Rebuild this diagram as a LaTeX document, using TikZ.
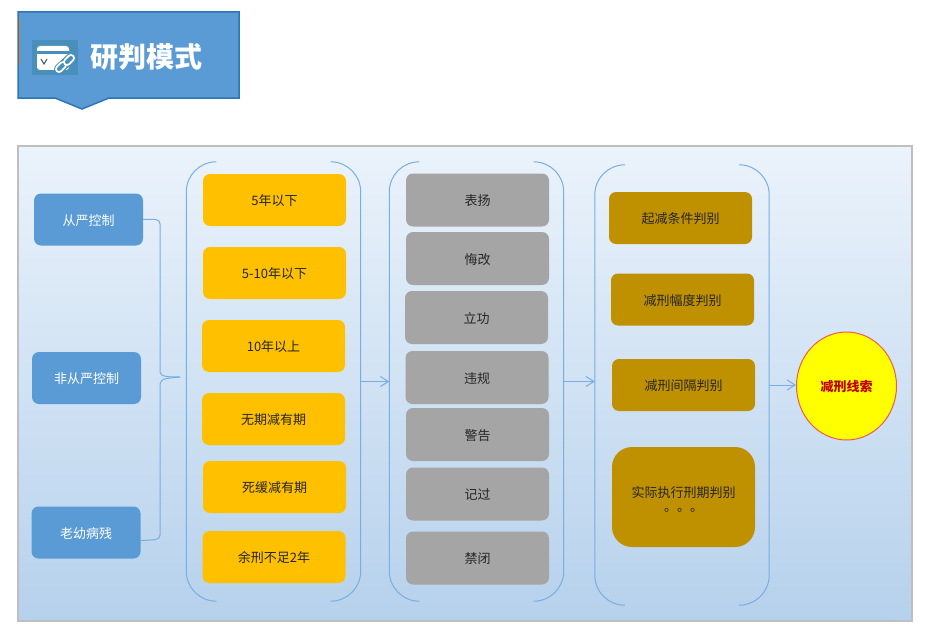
\documentclass[tikz,border=0pt]{standalone}
\usepackage{fontspec}
\setmainfont{Noto Sans CJK SC}
\usetikzlibrary{arrows.meta,shapes.geometric}
\definecolor{hdblue}{HTML}{5B9BD5}
\definecolor{hdline}{HTML}{2E75B6}
\definecolor{linkblue}{HTML}{78AEE2}
\definecolor{iconblue}{HTML}{4A8FBA}
\definecolor{bgtop}{HTML}{EBF3FB}
\definecolor{bgbottom}{HTML}{B6D1EC}
\definecolor{framegray}{HTML}{BFBFBF}
\definecolor{tagblue}{HTML}{5B9BD5}
\definecolor{taggold}{HTML}{FFC000}
\definecolor{taggray}{HTML}{A5A5A5}
\definecolor{tagbrown}{HTML}{BF9000}
\definecolor{markyellow}{HTML}{FFFF00}
\definecolor{markred}{HTML}{F05A50}
\definecolor{marktext}{HTML}{C00000}

\begin{document}
\begin{tikzpicture}[x=1pt,y=-1pt]
    \tikzset{
      tagbox/.style={rectangle, rounded corners=7pt, inner sep=0pt, align=center,
        text height=13pt, text depth=1.5pt, font=\fontsize{13}{16}\selectfont},
      ctrlbox/.style={tagbox, fill=tagblue, text=white, minimum width=109pt, minimum height=52pt},
      termbox/.style={tagbox, fill=taggold, text=black!85, minimum width=143pt, minimum height=52pt},
      actbox/.style={tagbox, fill=taggray, text=black!85, minimum width=143pt, minimum height=53pt},
      judgebox/.style={tagbox, fill=tagbrown, text=black!85, minimum width=143pt, minimum height=52pt},
      groupbox/.style={rectangle, inner sep=0pt, minimum width=174pt},
      bracket/.style={draw=linkblue, line width=1pt, rounded corners=30pt},
      link/.style={draw=linkblue, line width=1pt},
      linkarrow/.style={link, -{Straight Barb[length=8pt,width=10pt]}}
    }
    \useasboundingbox (0,0) rectangle (932,642);

    % header
    \fill[hdblue, draw=hdline, line width=1.5pt] (18,12) -- (239,12) -- (239,98) -- (109,98)
      -- (82,109) -- (55,98) -- (18,98) -- cycle;
    \draw[orange!70!black, line width=1pt] (18,18) -- (18,65);
    \fill[iconblue] (32,40) rectangle (78,75);
    \fill[white, rounded corners=3pt] (37,46) rectangle (69,70);
    \fill[iconblue] (37,51) rectangle (69,54);
    \draw[iconblue!60!black, line width=1pt] (41,59) -- (44,64) -- (47,59);
    \draw[iconblue, line width=10pt, line cap=round] (59,69) -- (71,58);
    \draw[white, line width=8pt, line cap=round] (59,69) -- (63,65);
    \draw[iconblue, line width=4pt, line cap=round] (59,69) -- (63,65);
    \draw[white, line width=8pt, line cap=round] (67,62) -- (71,58);
    \draw[iconblue, line width=4pt, line cap=round] (67,62) -- (71,58);
    \node[font=\fontsize{28}{30}\selectfont\bfseries, text=white, inner sep=0pt] (title) at (146,57) {研判模式};

    % background
    \shade[top color=bgtop, bottom color=bgbottom] (18,146) rectangle (912,621);
    \draw[framegray, line width=2pt] (18,146) rectangle (912,621);

    \node[groupbox, minimum height=439pt] (G1) at (273.5,381.5) {};
    \node[groupbox, minimum height=439pt] (G2) at (476.5,381.5) {};
    \node[groupbox, minimum height=440pt] (G3) at (682,385) {};

    \node[ctrlbox] (L1) at (88.5,219.5) {从严控制};
    \node[ctrlbox] (L2) at (86.5,378) {非从严控制};
    \node[ctrlbox] (L3) at (86,532.5) {老幼病残};

    \node[termbox] (Y1) at (274.5,200) {5年以下};
    \node[termbox] (Y2) at (274.5,273) {5-10年以下};
    \node[termbox] (Y3) at (273.5,346) {10年以上};
    \node[termbox] (Y4) at (273.5,419) {无期减有期};
    \node[termbox] (Y5) at (274.5,487) {死缓减有期};
    \node[termbox] (Y6) at (274,557) {余刑不足2年};

    \node[actbox] (K1) at (477.5,200) {表扬};
    \node[actbox] (K2) at (477.5,258.5) {悔改};
    \node[actbox] (K3) at (476.5,317.5) {立功};
    \node[actbox] (K4) at (477,377.5) {违规};
    \node[actbox] (K5) at (477.5,434.5) {警告};
    \node[actbox] (K6) at (477.5,494) {记过};
    \node[actbox] (K7) at (477.5,558) {禁闭};

    \node[judgebox] (B1) at (680.5,218) {起减条件判别};
    \node[judgebox] (B2) at (682.5,299.5) {减刑幅度判别};
    \node[judgebox] (B3) at (683.5,385) {减刑间隔判别};
    \node[judgebox, minimum height=100pt, rounded corners=20pt, text height=31pt] (B4) at (683.5,497)
      {实际执行刑期判别\\[-2pt]。。。};

    \node[ellipse, draw=markred, fill=markyellow, line width=1pt, minimum width=100pt, minimum height=108pt,
      inner sep=0pt, text=marktext, text height=13pt, text depth=1.5pt, font=\fontsize{13}{15}\selectfont\bfseries] (C) at (846.5,386) {减刑线索};

    % brackets
    \foreach \g in {G1,G2,G3} {
      \draw[bracket] ([xshift=30pt]\g.south west) -- (\g.south west) -- (\g.north west) -- ([xshift=30pt]\g.north west);
      \draw[bracket] ([xshift=-30pt]\g.south east) -- (\g.south east) -- (\g.north east) -- ([xshift=-30pt]\g.north east);
    }

    % brace from the three control types
    \coordinate (bracetip) at (180,377);
    \draw[link] (L1.east) .. controls (155,219) and (160,219) .. (160,224) -- (160,372)
      .. controls (160,377) and (170,377) .. (bracetip);
    \draw[link] ([yshift=-8pt]L3.east) .. controls (155,540) and (160,540) .. (160,535) -- (160,384)
      .. controls (160,378) and (170,378) .. (bracetip);

    \draw[linkarrow] (G1.east) -- (G2.west);
    \draw[linkarrow] (G2.east) -- (G3.west |- G2.east);
    \draw[linkarrow] (G3.east) -- (C.west |- G3.east);
\end{tikzpicture}
\end{document}
